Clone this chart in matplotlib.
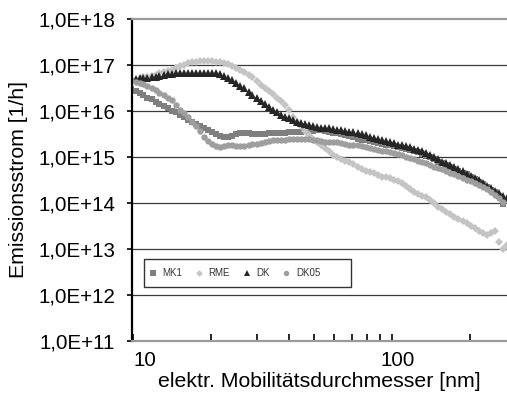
import numpy as np
import matplotlib
matplotlib.use("Agg")
import matplotlib.pyplot as plt
from matplotlib.patches import Rectangle
from matplotlib.transforms import ScaledTranslation
from matplotlib.ticker import FixedLocator, FuncFormatter, NullFormatter

plt.rcParams['font.family'] = ['Liberation Sans', 'DejaVu Sans']

# SMPS channel mid-point diameters [nm]
diameter_nm = [
    9.82, 10.2, 10.6, 10.9, 11.3, 11.8, 12.2, 12.6, 13.1, 13.6,
    14.1, 14.6, 15.1, 15.7, 16.3, 16.8, 17.5, 18.1, 18.8, 19.5,
    20.2, 20.9, 21.7, 22.5, 23.3, 24.1, 25.0, 25.9, 26.9, 27.9,
    28.9, 30.0, 31.1, 32.2, 33.4, 34.6, 35.9, 37.2, 38.5, 40.0,
    41.4, 42.9, 44.5, 46.1, 47.8, 49.6, 51.4, 53.3, 55.2, 57.3,
    59.4, 61.5, 63.8, 66.1, 68.5, 71.0, 73.7, 76.4, 79.1, 82.0,
    85.1, 88.2, 91.4, 94.7, 98.2, 101.8, 105.5, 109.4, 113.4, 117.6,
    121.9, 126.3, 131.0, 135.8, 140.7, 145.9, 151.2, 156.8, 162.5, 168.5,
    174.7, 181.1, 187.7, 194.6, 201.7, 209.1, 216.7, 224.7, 232.9, 241.4,
    250.3, 259.5, 269.0, 278.8,
]

# Emission rates [1/h]
mk1 = [
    3.02e16, 2.69e16, 2.45e16, 2.19e16, 1.95e16, 1.78e16, 1.58e16, 1.41e16, 1.29e16, 1.15e16,
    1.02e16, 9.33e15, 8.32e15, 7.41e15, 6.46e15, 5.89e15, 5.25e15, 4.68e15, 4.17e15, 3.80e15,
    3.47e15, 3.16e15, 2.88e15, 2.69e15, 2.69e15, 2.88e15, 3.24e15, 3.39e15, 3.39e15, 3.31e15,
    3.24e15, 3.16e15, 3.16e15, 3.24e15, 3.31e15, 3.31e15, 3.31e15, 3.39e15, 3.39e15, 3.47e15,
    3.47e15, 3.55e15, 3.55e15, 3.63e15, 3.72e15, 3.72e15, 3.80e15, 3.80e15, 3.72e15, 3.55e15,
    3.39e15, 3.31e15, 3.16e15, 3.02e15, 2.82e15, 2.69e15, 2.51e15, 2.40e15, 2.29e15, 2.19e15,
    2.09e15, 2.04e15, 1.95e15, 1.86e15, 1.82e15, 1.74e15, 1.66e15, 1.58e15, 1.51e15, 1.41e15,
    1.32e15, 1.26e15, 1.17e15, 1.07e15, 9.77e14, 8.91e14, 7.94e14, 7.24e14, 6.61e14, 6.03e14,
    5.50e14, 5.01e14, 4.57e14, 4.17e14, 3.72e14, 3.31e14, 2.88e14, 2.57e14, 2.24e14, 1.95e14,
    1.70e14, 1.45e14, 9.55e13, np.nan,
]

rme = [
    4.57e16, 4.79e16, 5.01e16, 5.37e16, 5.62e16, 5.89e16, 6.17e16, 6.61e16, 6.92e16, 7.41e16,
    7.76e16, 8.51e16, 9.33e16, 1.02e17, 1.10e17, 1.15e17, 1.17e17, 1.20e17, 1.23e17, 1.23e17,
    1.20e17, 1.17e17, 1.15e17, 1.10e17, 1.05e17, 9.55e16, 8.71e16, 7.76e16, 6.92e16, 6.17e16,
    5.37e16, 4.47e16, 3.72e16, 3.16e16, 2.75e16, 2.29e16, 1.95e16, 1.62e16, 1.38e16, 1.05e16,
    7.59e15, 5.89e15, 4.79e15, 3.63e15, 2.95e15, 2.51e15, 2.14e15, 1.82e15, 1.55e15, 1.32e15,
    1.12e15, 1.00e15, 9.12e14, 8.32e14, 7.76e14, 7.08e14, 6.17e14, 5.50e14, 5.01e14, 4.79e14,
    4.47e14, 4.07e14, 3.72e14, 3.63e14, 3.47e14, 3.24e14, 3.02e14, 2.75e14, 2.40e14, 2.04e14,
    1.74e14, 1.55e14, 1.41e14, 1.32e14, 1.15e14, 9.77e13, 8.32e13, 7.41e13, 6.46e13, 5.75e13,
    5.01e13, 4.57e13, 4.07e13, 3.63e13, 3.24e13, 2.88e13, 2.51e13, 2.24e13, 2.04e13, 2.19e13,
    2.51e13, 1.41e13, 1.00e13, 1.20e13,
]

dk = [
    5.01e16, 5.01e16, 5.13e16, 5.13e16, 5.25e16, 5.50e16, 5.62e16, 5.89e16, 6.17e16, 6.31e16,
    6.46e16, 6.61e16, 6.76e16, 6.76e16, 6.76e16, 6.76e16, 6.76e16, 6.76e16, 6.76e16, 6.76e16,
    6.76e16, 6.61e16, 6.31e16, 5.89e16, 5.25e16, 4.68e16, 4.07e16, 3.55e16, 3.09e16, 2.63e16,
    2.24e16, 1.91e16, 1.62e16, 1.41e16, 1.23e16, 1.07e16, 9.33e15, 8.32e15, 7.59e15, 6.92e15,
    6.31e15, 5.89e15, 5.62e15, 5.25e15, 5.01e15, 4.79e15, 4.57e15, 4.37e15, 4.27e15, 4.17e15,
    4.07e15, 3.89e15, 3.80e15, 3.72e15, 3.55e15, 3.47e15, 3.31e15, 3.09e15, 2.95e15, 2.75e15,
    2.63e15, 2.51e15, 2.34e15, 2.19e15, 2.09e15, 2.00e15, 1.86e15, 1.78e15, 1.70e15, 1.62e15,
    1.51e15, 1.45e15, 1.35e15, 1.23e15, 1.12e15, 1.00e15, 8.91e14, 7.94e14, 7.24e14, 6.61e14,
    6.03e14, 5.50e14, 4.90e14, 4.37e14, 3.89e14, 3.47e14, 3.09e14, 2.69e14, 2.40e14, 2.09e14,
    1.86e14, 1.62e14, 1.45e14, 1.29e14,
]

dk05 = [
    4.68e16, 4.37e16, 4.07e16, 3.80e16, 3.47e16, 3.16e16, 2.82e16, 2.51e16, 2.24e16, 1.95e16,
    1.70e16, 1.38e16, 1.07e16, 8.91e15, 7.24e15, 5.89e15, 4.68e15, 3.63e15, 2.75e15, 2.19e15,
    1.91e15, 1.70e15, 1.66e15, 1.74e15, 1.82e15, 1.78e15, 1.74e15, 1.74e15, 1.74e15, 1.82e15,
    1.91e15, 1.95e15, 2.00e15, 2.09e15, 2.19e15, 2.29e15, 2.34e15, 2.40e15, 2.40e15, 2.45e15,
    2.45e15, 2.45e15, 2.45e15, 2.45e15, 2.45e15, 2.40e15, 2.29e15, 2.24e15, 2.14e15, 2.14e15,
    2.14e15, 2.14e15, 2.04e15, 1.95e15, 1.86e15, 1.82e15, 1.78e15, 1.70e15, 1.66e15, 1.58e15,
    1.51e15, 1.45e15, 1.38e15, 1.32e15, 1.26e15, 1.20e15, 1.15e15, 1.10e15, 1.02e15, 9.55e14,
    8.91e14, 8.32e14, 7.76e14, 7.24e14, 6.61e14, 6.17e14, 5.75e14, 5.37e14, 4.90e14, 4.57e14,
    4.17e14, 3.89e14, 3.55e14, 3.24e14, 3.02e14, 2.75e14, 2.51e14, 2.24e14, 2.00e14, 1.74e14,
    1.51e14, 1.29e14, 1.05e14, np.nan,
]

series = [
    ("MK1", mk1, "s", "#7f7f7f", 4.4),
    ("RME", rme, "D", "#c4c4c4", 4.0),
    ("DK", dk, "^", "#262626", 5.4),
    ("DK05", dk05, "o", "#9e9e9e", 4.6),
]

fig = plt.figure(figsize=(5.07, 3.96), dpi=100)
ax = fig.add_axes([132 / 507, 55 / 396, 375 / 507, 322 / 396])

for name, values, marker, color, size in series:
    ax.plot(diameter_nm, values, linestyle="none", marker=marker, color=color,
            markersize=size, markeredgewidth=0, label=name)

ax.set_xscale("log")
ax.set_yscale("log")
ax.set_xlim(9.88, 279)
ax.set_ylim(1e11, 1e18)

# y axis: decades with "1,0E+xx" labels and horizontal grid lines
decades = [10.0 ** k for k in range(11, 19)]
ax.yaxis.set_major_locator(FixedLocator(decades))
ax.yaxis.set_minor_locator(FixedLocator([]))
ax.yaxis.set_major_formatter(FuncFormatter(lambda v, p: "1,0E+%02d" % int(round(np.log10(v)))))
for d in decades[1:-1]:
    ax.axhline(d, color="#3a3a3a", linewidth=0.9, zorder=0.5)
ax.tick_params(axis="y", which="major", direction="out", length=3.6, width=1.2,
               labelsize=14.8, pad=8.5, color="black")

# x axis: log ticks pointing into the plot
ax.xaxis.set_major_locator(FixedLocator([10, 100]))
ax.xaxis.set_major_formatter(FuncFormatter(lambda v, p: "%d" % v))
ax.xaxis.set_minor_locator(FixedLocator([20, 30, 40, 50, 60, 70, 80, 90, 200]))
ax.xaxis.set_minor_formatter(NullFormatter())
ax.tick_params(axis="x", which="both", direction="in", length=5, width=1.2,
               labelsize=14.8, pad=7.5, color="black")
major_ticks = ax.xaxis.get_major_ticks()
major_ticks[0].label1.set_horizontalalignment("left")
lab100 = major_ticks[1].label1
lab100.set_transform(lab100.get_transform() + ScaledTranslation(0.055, 0, fig.dpi_scale_trans))

ax.spines["right"].set_visible(False)
ax.spines["top"].set_color("#9a9a9a")
ax.spines["top"].set_linewidth(1.6)
ax.spines["bottom"].set_color("#9a9a9a")
ax.spines["bottom"].set_linewidth(1.6)
ax.spines["left"].set_color("black")
ax.spines["left"].set_linewidth(1.6)

ax.set_xlabel("elektr. Mobilitätsdurchmesser [nm]", fontsize=15.3, labelpad=1)
ax.set_ylabel("Emissionsstrom [1/h]", fontsize=15.3, labelpad=7)

# legend: boxed row of entries in the lower left of the plot area
ax.add_patch(Rectangle((0.032, 0.168), 0.552, 0.087, transform=ax.transAxes,
                       facecolor="white", edgecolor="#333333", linewidth=1.0, zorder=4))
leg = ax.legend(loc="center left", bbox_to_anchor=(0.04, 0.211), ncol=4, fontsize=7,
                frameon=False, borderpad=0.2, handlelength=0.8, handletextpad=0.6,
                columnspacing=1.3, markerscale=0.85, borderaxespad=0)
leg.set_zorder(5)
for t in leg.get_texts():
    t.set_color("#333333")

fig.savefig("out.png", dpi=100)
